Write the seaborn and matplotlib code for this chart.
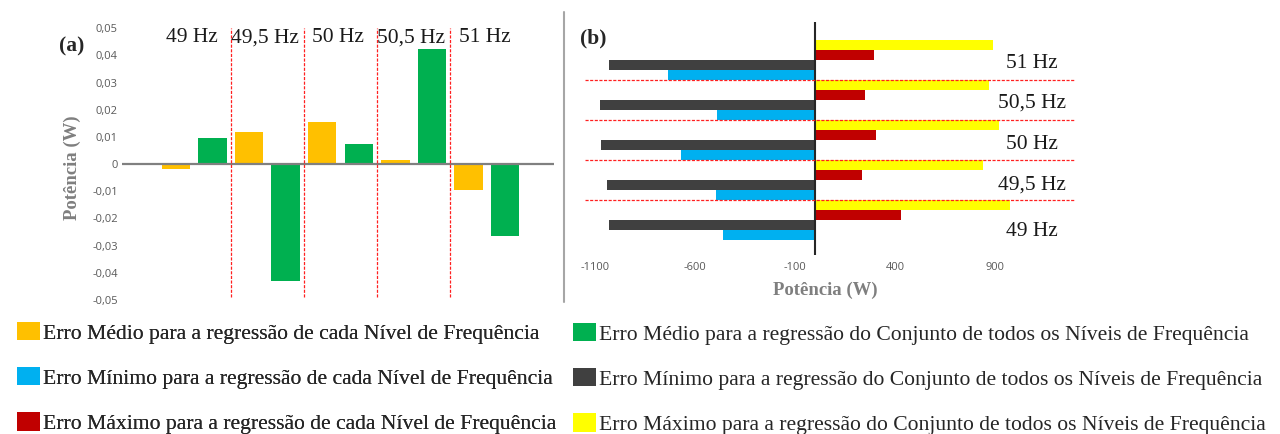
import matplotlib
matplotlib.use("Agg")
import matplotlib.pyplot as plt
from matplotlib.patches import Patch
from matplotlib.lines import Line2D
from matplotlib.ticker import FuncFormatter, FixedLocator
import seaborn as sns
import pandas as pd

# Frequency levels
freqs = ["49 Hz", "49,5 Hz", "50 Hz", "50,5 Hz", "51 Hz"]

# (a) mean error (W)
erro_medio_nivel = [-0.0018, 0.0117, 0.0156, 0.0015, -0.0096]
erro_medio_conjunto = [0.0096, -0.0429, 0.0075, 0.0422, -0.0266]

# (b) minimum / maximum error (W)
erro_min_nivel = [-458, -495, -672, -488, -737]
erro_min_conjunto = [-1028, -1038, -1068, -1075, -1028]
erro_max_nivel = [428, 235, 305, 252, 293]
erro_max_conjunto = [975, 842, 922, 870, 892]

lbl_med_nivel = "Erro Médio para a regressão de cada Nível de Frequência"
lbl_min_nivel = "Erro Mínimo para a regressão de cada Nível de Frequência"
lbl_max_nivel = "Erro Máximo para a regressão de cada Nível de Frequência"
lbl_med_conj = "Erro Médio para a regressão do Conjunto de todos os Níveis de Frequência"
lbl_min_conj = "Erro Mínimo para a regressão do Conjunto de todos os Níveis de Frequência"
lbl_max_conj = "Erro Máximo para a regressão do Conjunto de todos os Níveis de Frequência"

colors = {
    lbl_med_nivel: "#FFC000",
    lbl_med_conj: "#00B050",
    lbl_min_nivel: "#00B0F0",
    lbl_min_conj: "#404040",
    lbl_max_nivel: "#C00000",
    lbl_max_conj: "#FFFF00",
}

sns.set_theme(style="white")
plt.rcParams["font.family"] = ["Liberation Serif", "DejaVu Serif"]

SERIF = "Liberation Serif"
TICKFONT = "Open Sans"
TICKCOL = "#595959"
LABCOL = "#7F7F7F"
W, H = 1280, 434

fig = plt.figure(figsize=(W / 100, H / 100), dpi=100)


def fig_box(x0, y0, x1, y1):
    return [x0 / W, 1 - y1 / H, (x1 - x0) / W, (y1 - y0) / H]


# ---------------- (a) mean error per frequency ----------------
df_a = pd.DataFrame({
    "freq": freqs * 2,
    "valor": erro_medio_nivel + erro_medio_conjunto,
    "serie": [lbl_med_nivel] * 5 + [lbl_med_conj] * 5,
})
ax1 = fig.add_axes(fig_box(121.7, 28.3, 554, 300))
sns.barplot(data=df_a, x="freq", y="valor", hue="serie", order=freqs,
            hue_order=[lbl_med_nivel, lbl_med_conj], palette=colors,
            saturation=1, width=1.0, gap=0.22, linewidth=0, errorbar=None,
            legend=False, ax=ax1)
ax1.set_xlim(-0.993, 4.92)
ax1.set_ylim(-0.05, 0.05)
for s in ax1.spines.values():
    s.set_visible(False)
ax1.axhline(0, color="#808080", lw=1.6, zorder=3)
for b in [0.5, 1.5, 2.5, 3.5]:
    ax1.axvline(b, ymin=0.01, ymax=1.0, color="#FF2020", lw=0.9,
                linestyle=(0, (2.5, 1.2)), zorder=4)
ax1.set_xticks([])
ax1.set_xlabel("")
ax1.yaxis.set_major_locator(FixedLocator([i / 100 for i in range(-5, 6)]))
ax1.yaxis.set_major_formatter(FuncFormatter(
    lambda v, p: "0" if abs(v) < 1e-9 else f"{v:.2f}".replace(".", ",")))
ax1.tick_params(axis="y", length=0, pad=2.7, labelsize=8, labelcolor=TICKCOL)
for t in ax1.get_yticklabels():
    t.set_fontfamily(TICKFONT)
ax1.set_ylabel("Potência (W)", fontsize=13.5, fontweight="bold", color=LABCOL,
               fontfamily=SERIF)
ax1.yaxis.set_label_coords((72.7 - 121.7) / 432.3, (300 - 168) / 271.7)
ax1.yaxis.label.set_va("center")
for i, f in enumerate(freqs):
    ax1.text(i - 0.03, 0.0465, f, ha="center", va="center", fontsize=15.5,
             fontfamily=SERIF, color="#1a1a1a")
fig.text(72 / W, 1 - 46 / H, "(a)", ha="center", va="center", fontsize=15.5,
         fontweight="bold", fontfamily=SERIF)

# ---------------- (b) min / max error per frequency ----------------
order_b = freqs[::-1]
hue_b = [lbl_max_conj, lbl_max_nivel, lbl_min_conj, lbl_min_nivel]
df_b = pd.DataFrame({
    "freq": freqs * 4,
    "valor": erro_max_conjunto + erro_max_nivel + erro_min_conjunto + erro_min_nivel,
    "serie": [lbl_max_conj] * 5 + [lbl_max_nivel] * 5 + [lbl_min_conj] * 5 + [lbl_min_nivel] * 5,
})
ax2 = fig.add_axes(fig_box(585, 22, 1075, 255))
sns.barplot(data=df_b, x="valor", y="freq", hue="serie", order=order_b,
            hue_order=hue_b, palette=colors, orient="h", saturation=1,
            width=1.0, gap=0.0, linewidth=0, errorbar=None, legend=False, ax=ax2)
ax2.set_xlim(-1150, 1300)
ax2.set_ylim(4.875, -0.95)
for s in ax2.spines.values():
    s.set_visible(False)
ax2.axvline(0, color="#262626", lw=1.5, zorder=4)
for b in [0.5, 1.5, 2.5, 3.5]:
    ax2.axhline(b, color="#FF2020", lw=0.9, linestyle=(0, (2.5, 1.2)), zorder=5)
ax2.set_yticks([])
ax2.set_ylabel("")
ax2.set_xticks([-1100, -600, -100, 400, 900])
ax2.set_xticklabels(["-1100", "-600", "-100", "400", "900"])
ax2.tick_params(axis="x", length=0, pad=5, labelsize=8, labelcolor=TICKCOL)
for t in ax2.get_xticklabels():
    t.set_fontfamily(TICKFONT)
ax2.set_xlabel("Potência (W)", fontsize=13.5, fontweight="bold", color=LABCOL,
               fontfamily=SERIF)
ax2.xaxis.set_label_coords((825 - 585) / 490, -(290 - 255) / 233)
ax2.xaxis.label.set_va("center")
label_shift = [0.29, 0.12, 0.12, 0.08, 0.08]
for i, f in enumerate(freqs):
    ax2.text(1083, order_b.index(f) + label_shift[i], f, ha="center", va="center",
             fontsize=15.5, fontfamily=SERIF, color="#1a1a1a")
fig.text(593 / W, 1 - 38 / H, "(b)", ha="center", va="center", fontsize=15.5,
         fontweight="bold", fontfamily=SERIF)

# separator between panels
fig.add_artist(Line2D([564 / W, 564 / W], [1 - 12 / H, 1 - 302 / H],
                      color="#A6A6A6", lw=1.5))

# ---------------- legends ----------------
def make_legend(labels, x, y_top, size, spacing):
    fs_px = size * 100 / 72
    handles = [Patch(facecolor=colors[l], edgecolor="none") for l in labels]
    leg = fig.legend(handles, labels, loc="upper left",
                     bbox_to_anchor=(x / W, 1 - y_top / H), frameon=False,
                     prop={"family": SERIF, "size": size},
                     handlelength=23 / fs_px, handleheight=20 / fs_px,
                     handletextpad=3 / fs_px,
                     labelspacing=(spacing - 25) / fs_px,
                     borderpad=0, borderaxespad=0)
    return leg

leg1 = make_legend([lbl_med_nivel, lbl_min_nivel, lbl_max_nivel], 17, 322, 15.6, 48.5)
fig.add_artist(leg1)
make_legend([lbl_med_conj, lbl_min_conj, lbl_max_conj], 573, 323, 15.6, 48.5)

fig.savefig("out.png", dpi=100)
